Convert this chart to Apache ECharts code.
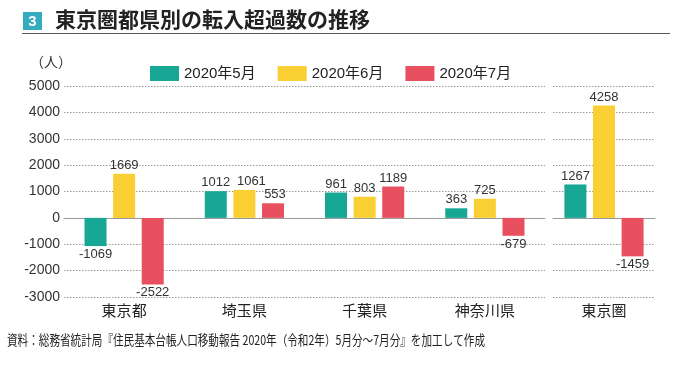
<!DOCTYPE html>
<html><head><meta charset="utf-8">
<script src="https://cdn.jsdelivr.net/npm/echarts@6/dist/echarts.min.js"></script>
<style>html,body{margin:0;padding:0;background:#fff}#c{width:680px;height:367px}</style>
</head><body><div id="c"></div>
<script>
const categoriesMain = ['東京都', '埼玉県', '千葉県', '神奈川県'];
const categoriesTotal = ['東京圏'];
const seriesNames = ['2020年5月', '2020年6月', '2020年7月'];
const may = [-1069, 1012, 961, 363, 1267];
const jun = [1669, 1061, 803, 725, 4258];
const jul = [-2522, 553, 1189, -679, -1459];
const yTicks = [-3000, -2000, -1000, 0, 1000, 2000, 3000, 4000, 5000];

const colors = ['#17a794', '#f9cf33', '#e8505f'];
const FONT = '"Liberation Sans", "Noto Sans CJK JP", sans-serif';
const values = [may, jun, jul];
// label nudges (style only): [seriesIdx][categoryIdx] -> x offset, to avoid overlap as in the source
const labelShift = { '1-1': 7, '2-1': 2 };

const chart = echarts.init(document.getElementById('c'));
const series = [];
for (let g = 0; g < 2; g++) {
  for (let s = 0; s < 3; s++) {
    const d = g === 0 ? values[s].slice(0, 4) : values[s].slice(4);
    series.push({
      name: seriesNames[s], type: 'bar', xAxisIndex: g, yAxisIndex: g,
      barWidth: 22, barGap: '30%',
      itemStyle: { color: colors[s] },
      data: d.map((v, i) => ({
        value: v,
        label: { show: true, position: v < 0 ? 'bottom' : 'top', distance: 2,
          offset: [g === 0 ? (labelShift[s + '-' + i] || 0) : 0, 0],
          color: '#333', fontSize: 13, fontFamily: FONT }
      }))
    });
  }
}
const yAxisBase = {
  type: 'value', min: yTicks[0], max: yTicks[yTicks.length - 1], interval: 1000,
  axisLine: { show: false }, axisTick: { show: false },
  splitLine: { lineStyle: { type: [1.5, 1.5], color: '#999', width: 1 } }
};
const catLabel = { fontSize: 15, color: '#222', margin: 6, fontFamily: '"Noto Sans CJK JP", sans-serif' };
chart.setOption({
  animation: false,
  textStyle: { fontFamily: FONT },
  title: {
    text: '東京圏都県別の転入超過数の推移', left: 50, top: 4,
    textStyle: { fontSize: 21, fontWeight: 'bold', color: '#222', fontFamily: '"Noto Sans CJK JP", sans-serif' }
  },
  graphic: [
    { type: 'rect', shape: { x: 23, y: 12, width: 19, height: 18 }, style: { fill: '#36abbd' } },
    { type: 'text', style: { x: 32.5, y: 21.5, text: '3', fill: '#fff', font: 'bold 15px "Liberation Sans", sans-serif', textAlign: 'center', textVerticalAlign: 'middle' } },
    { type: 'line', shape: { x1: 22, y1: 33.5, x2: 670, y2: 33.5 }, style: { stroke: '#555', lineWidth: 1 } },
    { type: 'text', style: { x: 30, y: 62, text: '（人）', fill: '#333', font: '14px "Noto Sans CJK JP", sans-serif', textVerticalAlign: 'middle' } },
    { type: 'text', x: 7, y: 340, scaleX: 0.785, style: { x: 0, y: 0, text: '資料：総務省統計局『住民基本台帳人口移動報告 2020年（令和2年）5月分～7月分』を加工して作成', fill: '#222', font: '13.5px "Noto Sans CJK JP", sans-serif', textVerticalAlign: 'middle' } }
  ],
  legend: {
    data: seriesNames, left: 145, top: 61, itemWidth: 29, itemHeight: 15, itemGap: 22,
    icon: 'rect', textStyle: { fontSize: 15, color: '#222', fontFamily: FONT }
  },
  grid: [
    { left: 64, right: 135, top: 86, bottom: 70, containLabel: false, outerBoundsMode: 'none' },
    { left: 553, right: 25, top: 86, bottom: 70, containLabel: false, outerBoundsMode: 'none' }
  ],
  xAxis: [
    { type: 'category', gridIndex: 0, data: categoriesMain,
      axisLine: { lineStyle: { color: '#999' } }, axisTick: { show: false }, axisLabel: catLabel },
    { type: 'category', gridIndex: 1, data: categoriesTotal,
      axisLine: { lineStyle: { color: '#999' } }, axisTick: { show: false }, axisLabel: catLabel }
  ],
  yAxis: [
    Object.assign({}, yAxisBase, { gridIndex: 0, axisLabel: { fontSize: 14, color: '#333', margin: 4, fontFamily: FONT, formatter: v => String(v) } }),
    Object.assign({}, yAxisBase, { gridIndex: 1, axisLabel: { show: false } })
  ],
  series: series
});
</script></body></html>
